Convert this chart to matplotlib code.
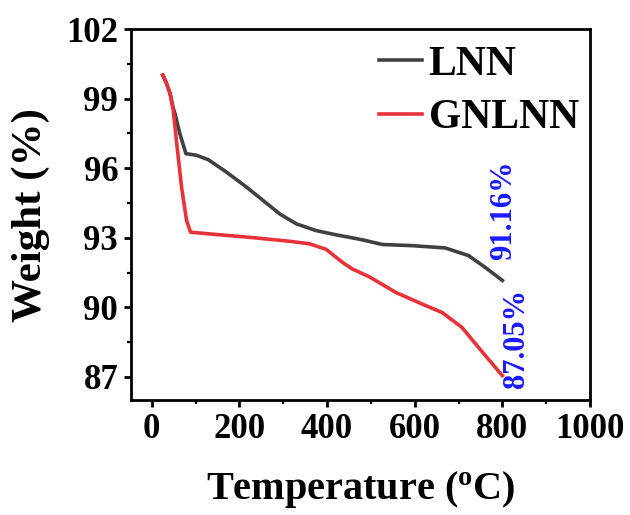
import matplotlib
matplotlib.use("Agg")
import matplotlib.pyplot as plt
from matplotlib.ticker import MultipleLocator

plt.rcParams['font.family'] = ['Liberation Serif', 'DejaVu Serif']
plt.rcParams['font.weight'] = 'bold'
plt.rcParams['mathtext.default'] = 'regular'

lnn_t = [25, 33, 41.6, 49, 53, 64, 78, 102, 129, 170, 216, 254, 292, 330, 375, 420, 451,
         481, 526, 595, 670, 723, 761, 800]
lnn_w = [100.02, 99.7, 99.23, 98.6, 98.36, 97.5, 96.63, 96.56, 96.37, 95.84, 95.19, 94.61,
         94.03, 93.6, 93.31, 93.13, 93.02, 92.91, 92.71, 92.66, 92.56, 92.23, 91.72, 91.16]

gn_t = [25, 33, 41.6, 49, 57, 68, 79.5, 88.6, 148, 223, 314, 360, 398, 435, 458, 496,
        557, 617, 663, 708, 746, 800]
gn_w = [100.02, 99.7, 99.23, 98.5, 97.06, 95.19, 93.74, 93.24, 93.14, 93.02, 92.85, 92.74,
        92.5, 91.94, 91.65, 91.32, 90.64, 90.14, 89.77, 89.13, 88.26, 87.05]

labels = ['LNN', 'GNLNN']
annot = ['91.16%', '87.05%']
xticks = [0, 200, 400, 600, 800, 1000]
yticks = [87, 90, 93, 96, 99, 102]

fig = plt.figure(figsize=(6.3, 5.15), dpi=100)
ax = fig.add_axes([0.2075, 0.2233, 0.729, 0.72])

ax.plot(lnn_t, lnn_w, color='#404040', lw=2.6, label=labels[0], solid_joinstyle='round')
ax.plot(gn_t, gn_w, color='#e8323a', lw=2.6, label=labels[1], solid_joinstyle='round')

ax.set_xlim(-48, 1000)
ax.set_ylim(86, 102)
ax.set_xticks(xticks)
ax.set_yticks(yticks)
ax.xaxis.set_minor_locator(MultipleLocator(100))
ax.yaxis.set_minor_locator(MultipleLocator(1.5))
ax.tick_params(which='major', direction='out', length=5, width=2, labelsize=25, pad=4)
ax.tick_params(which='minor', direction='out', length=3, width=1.6)
for s in ax.spines.values():
    s.set_linewidth(2)

ax.set_xlabel(r'Temperature ($\mathregular{^o}$C)', fontsize=29, fontweight='bold', labelpad=17)
ax.set_ylabel('Weight (%)', fontsize=31, fontweight='bold', labelpad=12)

ax.text(803, 94.18, annot[0], rotation=90, color='#1a1aff', fontsize=22,
        fontweight='bold', ha='center', va='center')
ax.text(832, 88.64, annot[1], rotation=90, color='#1a1aff', fontsize=22,
        fontweight='bold', ha='center', va='center')

leg = ax.legend(loc='upper left', bbox_to_anchor=(0.54, 0.955), frameon=False,
                fontsize=30, handlelength=1.05, handletextpad=0.15,
                labelspacing=0.36, borderpad=0, borderaxespad=0)
for t in leg.get_texts():
    t.set_fontweight('bold')

fig.savefig('out.png', dpi=100)
